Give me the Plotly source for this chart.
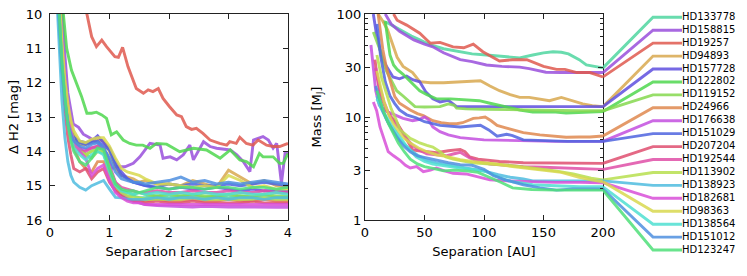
import plotly.graph_objects as go

# ---------------- names & colours (legend order) ----------------
stars = ["HD133778", "HD158815", "HD19257", "HD94893", "HD157728", "HD122802",
         "HD119152", "HD24966", "HD176638", "HD151029", "HD207204", "HD192544",
         "HD113902", "HD138923", "HD182681", "HD98363", "HD138564", "HD151012",
         "HD123247"]
colors = ["#4fd6a0", "#9a4fdc", "#e05a4f", "#d9a94f", "#5f4fe0", "#4fd84f",
          "#86d94f", "#e0894f", "#c44fe0", "#4f65e0", "#e04f70", "#e04fa8",
          "#b8e04f", "#4fbde0", "#d94fd9", "#d9d94f", "#4fe0d2", "#4f90e0",
          "#4fe07a"]

# ---------------- left panel: contrast curves ----------------
sep_grid = [0.1, 0.15, 0.2, 0.25, 0.3, 0.35, 0.4, 0.5, 0.6, 0.7, 0.8, 0.9, 1.0,
            1.1, 1.2, 1.3, 1.4, 1.5, 1.6, 1.8, 2.0, 2.2, 2.4, 2.6, 2.8, 3.0,
            3.2, 3.4, 3.6, 3.8, 4.0]

dmag_hd133778 = [8.5, 10.0, 11.3, 12.3, 13.0, 13.4, 13.7, 14.0, 14.1, 14.0, 13.9, 13.95, 14.5, 15.0, 15.2, 15.3, 15.3, 15.35, 15.35, 15.3, 15.35, 15.3, 15.3, 15.35, 15.3, 15.35, 15.3, 15.35, 15.3, 15.35, 15.35]
dmag_hd94893 = [8.0, 9.6, 11.0, 12.0, 12.7, 13.2, 13.5, 13.8, 13.8, 13.7, 13.65, 13.7, 14.0, 14.5, 14.7, 14.75, 14.8, 14.9, 14.85, 14.95, 14.95, 15.0, 14.85, 14.95, 15.05, 14.55, 14.75, 14.95, 14.85, 15.0, 15.05]
dmag_hd157728 = [8.5, 10.2, 11.6, 12.5, 13.1, 13.4, 13.6, 13.7, 13.75, 13.7, 13.55, 13.75, 13.9, 14.3, 14.6, 14.8, 14.9, 14.95, 15.0, 15.05, 15.1, 15.05, 15.1, 15.1, 15.05, 15.1, 15.15, 15.1, 15.15, 15.15, 15.17]
dmag_hd119152 = [8.0, 9.8, 11.2, 12.2, 12.9, 13.3, 13.6, 13.9, 14.1, 14.2, 14.0, 14.05, 14.6, 15.0, 15.15, 15.2, 15.25, 15.2, 15.25, 15.3, 15.25, 15.3, 15.25, 15.3, 15.3, 15.25, 15.3, 15.3, 15.25, 15.3, 15.3]
dmag_hd24966 = [7.8, 9.5, 11.0, 12.1, 12.9, 13.5, 13.9, 14.3, 14.5, 14.6, 14.3, 14.3, 14.7, 15.1, 15.3, 15.35, 15.4, 15.4, 15.45, 15.4, 15.45, 15.45, 15.4, 15.45, 15.45, 15.4, 15.45, 15.45, 15.4, 15.45, 15.45]
dmag_hd176638 = [8.2, 9.8, 11.2, 12.3, 13.0, 13.4, 13.7, 13.9, 13.95, 13.9, 13.85, 13.9, 14.4, 14.9, 15.2, 15.35, 15.45, 15.5, 15.55, 15.58, 15.6, 15.6, 15.62, 15.6, 15.62, 15.62, 15.62, 15.63, 15.62, 15.63, 15.63]
dmag_hd151029 = [8.6, 10.3, 11.7, 12.6, 13.2, 13.5, 13.6, 13.75, 13.8, 13.75, 13.7, 13.85, 13.95, 14.4, 14.7, 14.8, 14.9, 14.95, 15.0, 15.05, 14.95, 15.0, 14.95, 15.0, 15.0, 14.95, 15.0, 14.95, 14.9, 14.95, 15.0]
dmag_hd207204 = [8.0, 9.8, 11.5, 12.8, 13.6, 14.1, 14.5, 14.6, 14.5, 14.8, 14.6, 14.5, 14.9, 15.15, 15.3, 15.4, 15.45, 15.45, 15.5, 15.45, 15.5, 15.5, 15.45, 15.5, 15.5, 15.5, 15.5, 15.45, 15.5, 15.5, 15.5]
dmag_hd192544 = [8.3, 10.0, 11.4, 12.4, 13.1, 13.5, 13.8, 14.0, 14.0, 13.9, 13.85, 13.9, 14.5, 14.9, 15.05, 15.1, 15.15, 15.2, 15.2, 15.15, 15.2, 15.2, 15.15, 15.2, 15.2, 15.15, 15.2, 15.2, 15.15, 15.2, 15.2]
dmag_hd113902 = [8.0, 9.7, 11.1, 12.2, 12.9, 13.4, 13.7, 14.0, 14.1, 14.0, 13.95, 14.0, 14.5, 14.95, 15.2, 15.3, 15.35, 15.35, 15.4, 15.4, 15.4, 15.4, 15.35, 15.4, 15.4, 15.4, 15.4, 15.4, 15.35, 15.4, 15.4]
dmag_hd138923 = [9.0, 10.8, 12.5, 13.6, 14.3, 14.7, 14.9, 15.05, 15.13, 15.0, 14.93, 14.85, 15.1, 15.34, 15.35, 15.4, 15.4, 15.4, 15.4, 15.35, 15.4, 15.35, 15.35, 15.4, 15.35, 15.4, 15.35, 15.35, 15.4, 15.35, 15.35]
dmag_hd182681 = [7.9, 9.6, 11.1, 12.2, 12.9, 13.4, 13.7, 14.0, 14.2, 14.7, 14.5, 14.4, 14.85, 15.2, 15.35, 15.45, 15.5, 15.5, 15.55, 15.55, 15.55, 15.55, 15.55, 15.55, 15.55, 15.55, 15.55, 15.55, 15.55, 15.55, 15.55]
dmag_hd98363 = [7.9, 9.4, 10.8, 11.9, 12.6, 13.1, 13.4, 13.7, 13.75, 13.65, 13.6, 13.6, 13.85, 14.2, 14.5, 14.6, 14.65, 14.7, 14.8, 14.95, 14.95, 15.0, 15.05, 15.0, 15.05, 14.7, 14.85, 15.05, 15.0, 15.1, 15.1]
dmag_hd138564 = [8.3, 10.0, 11.5, 12.5, 13.2, 13.6, 13.9, 14.1, 14.25, 14.1, 14.0, 14.1, 14.6, 15.0, 15.15, 15.2, 15.25, 15.2, 15.25, 15.2, 15.25, 15.2, 15.25, 15.2, 15.25, 15.25, 15.2, 15.25, 15.25, 15.2, 15.25]
dmag_hd151012 = [8.4, 10.1, 11.5, 12.5, 13.2, 13.5, 13.7, 13.85, 13.9, 13.8, 13.75, 13.9, 14.2, 14.6, 14.8, 14.85, 14.9, 14.9, 14.95, 14.9, 14.85, 14.75, 14.9, 14.85, 14.95, 14.9, 14.95, 14.9, 14.85, 14.9, 14.95]
dmag_hd123247 = [8.2, 9.9, 11.4, 12.4, 13.2, 13.7, 14.0, 14.3, 14.4, 14.2, 13.9, 13.95, 14.5, 14.95, 15.1, 15.15, 15.15, 15.2, 15.15, 15.05, 15.1, 15.05, 15.05, 15.1, 15.05, 15.05, 15.1, 15.05, 15.05, 15.1, 15.05]

sep_hd19257 = [0.55, 0.62, 0.7, 0.78, 0.87, 0.95, 1.09, 1.15, 1.22, 1.31, 1.45, 1.57, 1.65, 1.73, 1.82, 1.9, 2.01, 2.13, 2.21, 2.29, 2.38, 2.46, 2.57, 2.69, 2.85, 2.97, 3.02, 3.13, 3.19, 3.3, 3.41, 3.5, 3.64, 3.75, 3.86, 4.0]
dmag_hd19257 = [9.3, 10.0, 10.66, 10.95, 10.76, 10.95, 11.24, 11.26, 10.97, 11.53, 12.17, 12.31, 12.21, 12.26, 12.17, 12.46, 12.7, 12.94, 12.99, 13.28, 13.36, 13.33, 13.48, 13.67, 13.77, 13.82, 13.72, 13.77, 13.59, 13.77, 13.82, 13.67, 13.82, 13.86, 13.86, 13.77]
sep_hd122802 = [0.18, 0.22, 0.28, 0.36, 0.45, 0.53, 0.62, 0.7, 0.78, 0.87, 0.95, 1.03, 1.12, 1.23, 1.34, 1.45, 1.56, 1.68, 1.79, 1.96, 2.18, 2.41, 2.63, 2.86, 3.03, 3.19, 3.3, 3.42, 3.52, 3.58, 3.75, 3.86, 3.92, 4.0]
dmag_hd122802 = [9.2, 10.0, 11.0, 11.63, 12.02, 12.4, 12.89, 12.89, 12.86, 12.94, 13.04, 13.52, 13.43, 13.67, 13.77, 13.82, 13.82, 13.91, 13.77, 13.79, 14.01, 13.91, 13.96, 14.2, 13.96, 14.25, 14.3, 14.45, 14.06, 14.16, 14.16, 14.35, 14.35, 14.06]
sep_hd158815 = [0.15, 0.2, 0.25, 0.3, 0.39, 0.48, 0.56, 0.66, 0.81, 0.95, 1.04, 1.12, 1.26, 1.4, 1.51, 1.68, 1.85, 1.9, 2.02, 2.13, 2.24, 2.35, 2.41, 2.58, 2.69, 2.8, 3.03, 3.14, 3.25, 3.36, 3.42, 3.58, 3.67, 3.75, 3.81, 3.89, 3.95, 4.0]
dmag_hd158815 = [8.5, 10.0, 11.2, 12.3, 13.2, 13.3, 13.5, 13.6, 13.77, 14.06, 14.5, 14.45, 14.45, 14.35, 14.16, 13.77, 13.82, 14.2, 14.16, 14.25, 14.1, 13.82, 14.25, 13.72, 13.86, 13.91, 13.96, 14.1, 14.3, 14.59, 13.67, 13.57, 13.67, 13.91, 13.77, 14.93, 14.06, 14.06]

# ---------------- right panel: mass limits ----------------
au_hd133778 = [15, 20, 25, 32, 39, 46, 55, 66, 80, 90, 102, 115, 130, 141, 150, 158, 165, 171, 180, 186, 193, 200]
mass_hd133778 = [85, 81, 75, 67, 61, 56, 50, 46, 43, 41, 40, 39, 37.5, 40, 42, 43, 42.5, 41, 36, 32, 31, 30]
au_hd158815 = [17, 22, 29, 35, 41, 50, 57, 66, 75, 80, 90, 102, 115, 130, 138, 145, 152, 165, 180, 200]
mass_hd158815 = [100, 80, 68, 62, 56, 51, 48, 42, 38, 36, 34.5, 32, 31, 30.5, 29.5, 28.5, 27.2, 27, 27, 27]
au_hd19257 = [24, 27, 35, 46, 52, 55, 63, 74, 83, 91, 99, 108, 113, 124, 136, 150, 161, 168, 178, 189, 200]
mass_hd19257 = [100, 87, 78, 65, 56, 52, 53, 48, 47, 51, 43, 38, 35, 36, 36, 31, 29, 29, 27, 27, 24.5]
au_hd94893 = [11, 15, 19, 23, 27, 32, 40, 46, 55, 66, 80, 90, 97, 105, 113, 122, 130, 138, 147, 155, 165, 174, 183, 191, 200]
mass_hd94893 = [100, 85, 70, 52, 38, 31, 27, 22, 21.5, 21.5, 22, 22.5, 22.5, 20, 18, 16.5, 15.5, 15.5, 15, 14.4, 15.5, 14.5, 13.4, 12.9, 12.6]
au_hd157728 = [7, 9.5, 12.6, 15, 18, 21, 23.5, 29, 35, 40, 46, 51, 57, 63, 70, 77, 90, 102, 120, 140, 160, 180, 200]
mass_hd157728 = [100, 65, 45, 37, 31, 27, 24.5, 23.5, 25, 23, 22, 17.6, 15, 14, 14.5, 12.6, 12.6, 12.6, 12.5, 12.5, 12.4, 12.5, 12.6]
au_hd122802 = [17, 19, 21, 24, 27, 32, 40, 46, 52, 60, 72, 85, 96, 105, 119, 130, 141, 158, 169, 185, 200]
mass_hd122802 = [85, 60, 40, 32, 29, 26, 21, 18, 16.5, 15, 15, 14.8, 14.4, 13.6, 12.4, 11.7, 11.2, 11.2, 10.9, 11.2, 11.3]
au_hd119152 = [7, 10, 12.6, 15, 18, 21, 26.6, 32, 37.6, 42, 50, 57, 63, 70, 75, 77, 85, 100, 120, 140, 160, 180, 200]
mass_hd119152 = [67, 55, 45, 35, 28, 24, 18, 16, 14, 12.6, 12.5, 12.5, 12.6, 13.4, 13.0, 12.2, 12, 11.9, 11.8, 11.6, 11.5, 11.5, 11.5]
au_hd24966 = [11, 13, 15, 18, 21, 25, 29, 34, 38, 44, 49, 57, 64, 71, 77, 82, 87, 91, 96, 101, 106, 111, 119, 133, 147, 160, 169, 180, 189, 200]
mass_hd24966 = [100, 70, 45, 30, 23, 15.8, 13.6, 12.5, 11.7, 10.8, 10.3, 9.2, 8.8, 8.6, 8.6, 8.8, 9.3, 9.7, 9.8, 10, 9.2, 8.3, 7.8, 7.05, 6.7, 6.5, 6.35, 6.4, 6.4, 6.55]
au_hd176638 = [5, 7, 9, 12, 17, 25, 32, 40, 46, 50, 53, 57, 63, 70, 80, 100, 130, 160, 200]
mass_hd176638 = [50, 30, 18, 13, 11.5, 10.5, 9.7, 9.2, 9.5, 10, 9.5, 8, 7.2, 6.7, 6.3, 6.0, 5.9, 5.8, 5.8]
au_hd151029 = [10, 13, 17, 21, 25, 29, 35, 43, 50, 63, 80, 97, 104, 111, 119, 124, 133, 150, 170, 200]
mass_hd151029 = [80, 40, 22, 16, 13.5, 11.7, 10.5, 9.8, 9, 8.3, 8, 8.3, 7.5, 6.5, 6.8, 6.6, 6.0, 5.9, 5.8, 5.8]
au_hd207204 = [8.4, 10, 12.6, 18, 22, 27, 32, 35, 40, 45, 52, 60, 70, 80, 84, 88, 95, 105, 113, 133, 150, 169, 185, 200]
mass_hd207204 = [36, 25, 17, 11.7, 10, 8.7, 7, 6, 4.8, 4.7, 4.6, 4.5, 4.7, 4.85, 4.6, 4.1, 3.9, 3.8, 3.7, 3.6, 3.6, 3.55, 3.55, 3.55]
au_hd192544 = [9, 12, 16, 21, 26, 30, 35, 40, 45, 52, 60, 68, 75, 80, 88, 95, 105, 120, 133, 150, 170, 185, 200]
mass_hd192544 = [30, 20, 14, 10, 8.5, 7.5, 6.2, 5.3, 4.8, 4.4, 4.3, 4.2, 4.4, 4.55, 4.0, 3.7, 3.5, 3.4, 3.3, 3.25, 3.2, 3.15, 3.1]
au_hd113902 = [10, 14, 18, 22, 26, 29.4, 34, 38, 42, 46, 52, 57, 63, 68, 74, 80, 90, 105, 120, 140, 160, 175, 190, 200]
mass_hd113902 = [40, 24, 17, 12, 9.5, 7.5, 6.8, 6.2, 5.9, 5.6, 5.3, 5.1, 4.6, 4.1, 3.9, 3.8, 3.6, 3.5, 3.4, 3.2, 3.0, 2.8, 2.55, 2.45]
au_hd138923 = [10, 13, 18, 23, 29, 34, 38, 45, 52, 60, 66, 75, 85, 95, 102, 112, 122, 133, 141, 160, 180, 200]
mass_hd138923 = [16, 12.5, 9.5, 7.5, 6.0, 5.3, 4.8, 4.2, 3.8, 3.6, 3.5, 3.35, 3.2, 3.05, 2.95, 2.75, 2.6, 2.5, 2.4, 2.4, 2.4, 2.4]
au_hd182681 = [7, 9.8, 12.6, 16, 19.5, 24, 29.4, 34, 38, 43.4, 49, 55, 60, 67, 74, 85, 95, 105, 119, 141, 160, 180, 200]
mass_hd182681 = [14, 11.5, 8, 6.2, 4.6, 4.2, 3.8, 3.4, 3.2, 3.3, 2.95, 3.05, 3.2, 3.0, 2.84, 2.8, 2.6, 2.45, 2.4, 2.35, 2.32, 2.32, 2.3]
au_hd98363 = [10, 13, 16, 20, 24, 28, 33, 38, 45, 52, 60, 70, 80, 90, 100, 110, 120, 135, 150, 165, 180, 190, 200]
mass_hd98363 = [28, 19, 14, 10.5, 8.5, 7.2, 6.2, 5.6, 5.0, 4.6, 4.3, 4.1, 3.85, 3.7, 3.6, 3.5, 3.35, 3.2, 3.05, 2.9, 2.6, 2.45, 2.35]
au_hd138564 = [10, 14, 18, 22, 27, 31, 35, 43, 50, 57, 71, 80, 91, 100, 108, 116, 124, 133, 141, 160, 180, 200]
mass_hd138564 = [15, 12, 10, 8.3, 6.9, 6.0, 5.2, 4.1, 3.7, 3.5, 3.3, 3.2, 3.1, 3.0, 2.75, 2.5, 2.35, 2.25, 2.2, 2.15, 2.1, 2.1]
au_hd151012 = [9, 12, 15, 19, 23, 27, 32, 38, 44, 52, 60, 70, 80, 90, 100, 108, 118, 133, 147, 161, 175, 190, 200]
mass_hd151012 = [20, 15, 11.5, 9, 7.5, 6.3, 5.3, 4.6, 4.2, 4.0, 3.8, 3.6, 3.45, 3.4, 3.1, 2.7, 2.45, 2.2, 2.05, 1.95, 2.0, 2.02, 2.0]
au_hd123247 = [10, 13, 16, 20, 24, 28, 33, 38, 44, 50, 58, 66, 75, 85, 95, 105, 115, 124, 140, 160, 180, 200]
mass_hd123247 = [18, 14, 11, 8.5, 6.8, 5.6, 4.6, 3.9, 3.5, 3.3, 3.15, 3.0, 3.05, 3.0, 2.9, 2.6, 2.3, 2.05, 1.98, 1.95, 1.95, 1.95]

x_ticks_left = [0, 1, 2, 3, 4]
y_ticks_left = [10, 11, 12, 13, 14, 15, 16]
x_ticks_right = [0, 50, 100, 150, 200]
y_ticks_right = [1, 3, 10, 30, 100]
y_minor_right = [2, 4, 5, 6, 7, 8, 9, 20, 40, 50, 60, 70, 80, 90]

left_series = {
    "HD133778": (sep_grid, dmag_hd133778), "HD158815": (sep_hd158815, dmag_hd158815),
    "HD19257": (sep_hd19257, dmag_hd19257), "HD94893": (sep_grid, dmag_hd94893),
    "HD157728": (sep_grid, dmag_hd157728), "HD122802": (sep_hd122802, dmag_hd122802),
    "HD119152": (sep_grid, dmag_hd119152), "HD24966": (sep_grid, dmag_hd24966),
    "HD176638": (sep_grid, dmag_hd176638), "HD151029": (sep_grid, dmag_hd151029),
    "HD207204": (sep_grid, dmag_hd207204), "HD192544": (sep_grid, dmag_hd192544),
    "HD113902": (sep_grid, dmag_hd113902), "HD138923": (sep_grid, dmag_hd138923),
    "HD182681": (sep_grid, dmag_hd182681), "HD98363": (sep_grid, dmag_hd98363),
    "HD138564": (sep_grid, dmag_hd138564), "HD151012": (sep_grid, dmag_hd151012),
    "HD123247": (sep_grid, dmag_hd123247),
}
right_series = {
    "HD133778": (au_hd133778, mass_hd133778), "HD158815": (au_hd158815, mass_hd158815),
    "HD19257": (au_hd19257, mass_hd19257), "HD94893": (au_hd94893, mass_hd94893),
    "HD157728": (au_hd157728, mass_hd157728), "HD122802": (au_hd122802, mass_hd122802),
    "HD119152": (au_hd119152, mass_hd119152), "HD24966": (au_hd24966, mass_hd24966),
    "HD176638": (au_hd176638, mass_hd176638), "HD151029": (au_hd151029, mass_hd151029),
    "HD207204": (au_hd207204, mass_hd207204), "HD192544": (au_hd192544, mass_hd192544),
    "HD113902": (au_hd113902, mass_hd113902), "HD138923": (au_hd138923, mass_hd138923),
    "HD182681": (au_hd182681, mass_hd182681), "HD98363": (au_hd98363, mass_hd98363),
    "HD138564": (au_hd138564, mass_hd138564), "HD151012": (au_hd151012, mass_hd151012),
    "HD123247": (au_hd123247, mass_hd123247),
}

# ---------------- layout geometry ----------------
W, H = 747, 276
FONT = "DejaVu Sans"
ydom = [1 - 220 / H, 1 - 14 / H]
xdom_left = [50 / W, 288 / W]
xdom_right = [365 / W, 603 / W]
xdom_leg = [603 / W, 682 / W]
k = 2 / (ydom[1] - ydom[0])
r0 = 0 - ydom[0] * k
r1 = 2 + (1 - ydom[1]) * k
label_py0, label_dpy = 17.3, 12.93
knee = 50 / 79

fig = go.Figure()
LW = 2.9
for i, s in enumerate(stars):
    x, y = left_series[s]
    fig.add_trace(go.Scatter(x=x, y=y, mode="lines", xaxis="x", yaxis="y",
                             line=dict(color=colors[i], width=LW), opacity=0.85,
                             showlegend=False, hoverinfo="skip"))
for i, s in enumerate(stars):
    x, y = right_series[s]
    fig.add_trace(go.Scatter(x=x, y=y, mode="lines", xaxis="x2", yaxis="y2",
                             line=dict(color=colors[i], width=LW), opacity=0.85,
                             showlegend=False, hoverinfo="skip"))

label_y = []
for i, s in enumerate(stars):
    py = label_py0 + i * label_dpy
    logv = r0 + (1 - py / H) * (r1 - r0)
    yl = 10 ** logv
    label_y.append(yl)
    end_val = right_series[s][1][-1]
    fig.add_trace(go.Scatter(x=[0, knee, 1], y=[end_val, yl, yl], mode="lines",
                             xaxis="x3", yaxis="y3",
                             line=dict(color=colors[i], width=LW), opacity=0.85,
                             showlegend=False, hoverinfo="skip"))
fig.add_trace(go.Scatter(x=[1] * len(stars), y=label_y, text=stars, mode="text",
                         textposition="middle right", cliponaxis=False,
                         xaxis="x3", yaxis="y3",
                         textfont=dict(family=FONT, size=10, color="black"),
                         showlegend=False, hoverinfo="skip"))

tfont = dict(family=FONT, size=13, color="black")
axis_common = dict(showline=True, linecolor="#222", linewidth=1, mirror="ticks",
                   ticks="inside", ticklen=5, tickcolor="#222", showgrid=False,
                   zeroline=False, automargin=False, tickfont=tfont)

fig.update_layout(
    width=W, height=H, margin=dict(l=0, r=0, t=0, b=0),
    paper_bgcolor="white", plot_bgcolor="white",
    font=dict(family=FONT, size=13, color="black"),
    xaxis=dict(domain=xdom_left, range=[0, 4], tickvals=x_ticks_left, anchor="y",
               title=dict(text="Separation [arcsec]", standoff=8, font=tfont), **axis_common),
    yaxis=dict(domain=ydom, range=[16, 10], tickvals=y_ticks_left, anchor="x",
               ticklabelstandoff=4,
               title=dict(text="Δ H2 [mag]", standoff=4, font=tfont), **axis_common),
    xaxis2=dict(domain=xdom_right, range=[0, 200], tickvals=x_ticks_right, anchor="y2",
                title=dict(text="Separation [AU]", standoff=8, font=tfont), **axis_common),
    yaxis2=dict(domain=ydom, type="log", range=[0, 2], tickvals=y_ticks_right,
                ticktext=[str(v) for v in y_ticks_right], anchor="x2",
                minor=dict(tickvals=y_minor_right, ticks="inside", ticklen=3,
                           tickcolor="#222"),
                title=dict(text="Mass [M<sub>J</sub>]", standoff=12, font=tfont), **axis_common),
    xaxis3=dict(domain=xdom_leg, range=[0, 1], visible=False, anchor="y3"),
    yaxis3=dict(domain=[0, 1], type="log", range=[r0, r1], visible=False, anchor="x3"),
)

fig.write_html("out.html", config={"displayModeBar": False},
               post_script="document.body.style.margin='0px';")
